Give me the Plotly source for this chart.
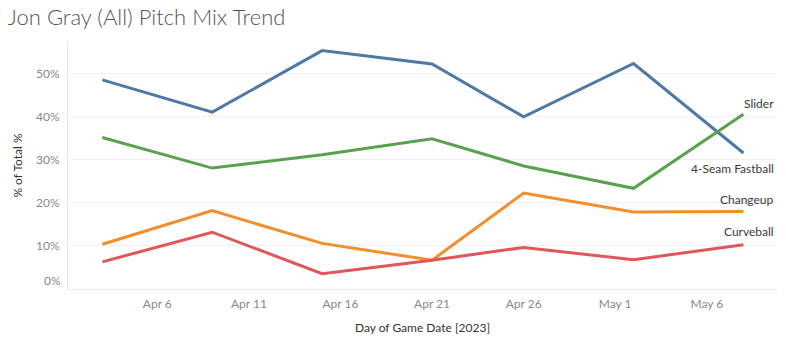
import plotly.graph_objects as go

dates = ["2023-04-03", "2023-04-09", "2023-04-15", "2023-04-21",
         "2023-04-26", "2023-05-02", "2023-05-08"]
fastball = [48.6, 41.1, 55.4, 52.3, 40.0, 52.4, 31.6]
slider = [35.2, 28.1, 31.2, 34.9, 28.6, 23.4, 40.6]
changeup = [10.4, 18.2, 10.6, 6.7, 22.3, 17.9, 18.0]
curveball = [6.3, 13.2, 3.55, 6.7, 9.65, 6.8, 10.3]

tick_dates = ["2023-04-06", "2023-04-11", "2023-04-16", "2023-04-21",
              "2023-04-26", "2023-05-01", "2023-05-06"]
tick_text = ["Apr 6", "Apr 11", "Apr 16", "Apr 21", "Apr 26", "May 1", "May 6"]
y_ticks = [10, 20, 30, 40, 50]
y_tick_text = ["10%", "20%", "30%", "40%", "50%"]

Y_MAX = 57.4

series = [
    ("4-Seam Fastball", fastball, "#4e79a7", -15),
    ("Slider", slider, "#59a14f", 11),
    ("Changeup", changeup, "#f28e2b", 12),
    ("Curveball", curveball, "#e15759", 13),
]

FONT = "Lato"
fig = go.Figure()
for name, vals, color, _ in series:
    fig.add_trace(go.Scatter(x=dates, y=vals, mode="lines", name=name,
                             line=dict(color=color, width=3),
                             showlegend=False))

annotations = []
for name, vals, color, ys in series:
    annotations.append(dict(x=1, xref="paper", y=vals[-1] / Y_MAX,
                            yref="paper", xanchor="right", yanchor="middle",
                            yshift=ys, xshift=-1, align="right",
                            text=name, showarrow=False,
                            font=dict(family=FONT, size=12, color="#3a3a3a")))
annotations.append(dict(x=0, xref="paper", y=0, yref="paper", xanchor="right",
                        yanchor="middle", xshift=-5, yshift=9, text="0%",
                        showarrow=False,
                        font=dict(family=FONT, size=12, color="#888888")))

fig.update_layout(
    width=786, height=355,
    margin=dict(l=68, r=9, t=42, b=66),
    paper_bgcolor="white", plot_bgcolor="white",
    title=dict(text="Jon Gray (All) Pitch Mix Trend", x=0.01, xanchor="left",
               y=0.95, yanchor="middle",
               font=dict(family=FONT, size=22, color="#555555", weight=300)),
    annotations=annotations,
    xaxis=dict(range=["2023-04-01 03:00", "2023-05-09 20:00"],
               tickvals=tick_dates, ticktext=tick_text,
               showgrid=False, zeroline=False,
               showline=True, linecolor="#e8e8e8", linewidth=1,
               ticks="", ticklabelstandoff=4,
               tickfont=dict(family=FONT, size=12, color="#888888"),
               title=dict(text="Day of Game Date [2023]", standoff=13,
                          font=dict(family=FONT, size=12, color="#333333"))),
    yaxis=dict(range=[0, Y_MAX], tickvals=y_ticks, ticktext=y_tick_text,
               showgrid=True, gridcolor="#f0f0f0", gridwidth=1,
               zeroline=False, showline=True, linecolor="#e8e8e8",
               linewidth=1, ticks="", ticklabelstandoff=5,
               tickfont=dict(family=FONT, size=12, color="#888888"),
               title=dict(text="% of Total %", standoff=10,
                          font=dict(family=FONT, size=12, color="#333333"))),
)

fig.write_html("out.html", config={"displayModeBar": False},
               post_script="document.body.style.margin='0px';"
                           "document.body.style.overflow='hidden';")
